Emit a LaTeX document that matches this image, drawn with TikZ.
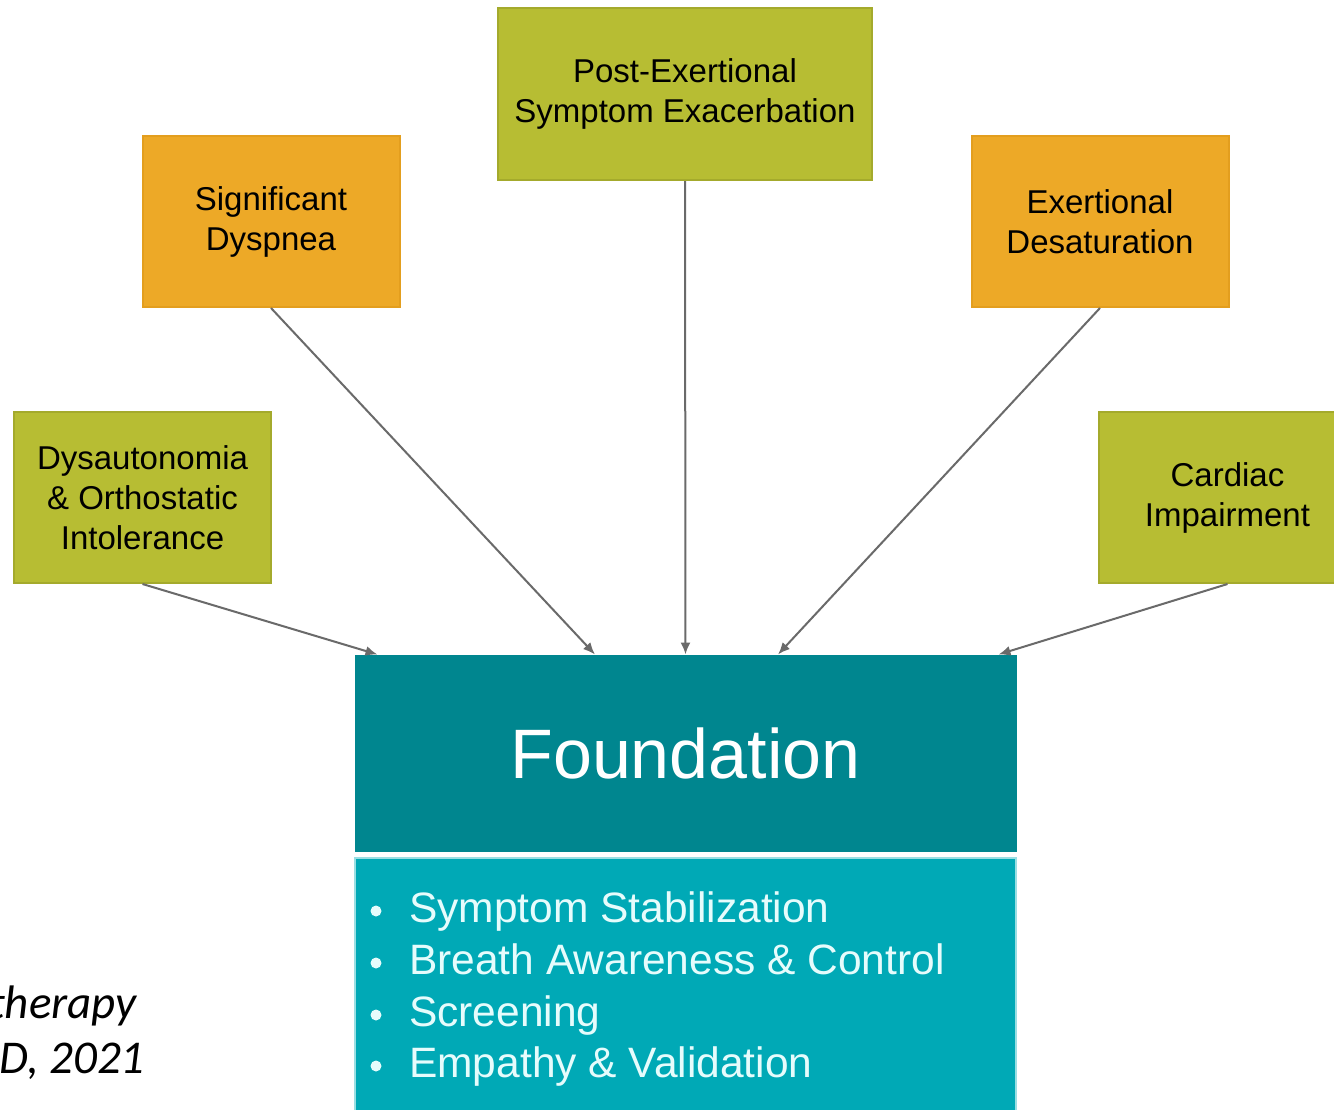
\documentclass[tikz,border=0pt]{standalone}
\usepackage{fontspec}
\setmainfont{Liberation Sans}
\newfontfamily\arialfont{Liberation Sans}
\newfontfamily\calib{Carlito}
\usetikzlibrary{arrows.meta}
\definecolor{boxgreen}{HTML}{B7BD33}
\definecolor{boxgreenedge}{HTML}{A4AA2C}
\definecolor{boxorange}{HTML}{EDA927}
\definecolor{boxorangeedge}{HTML}{E39E1E}
\definecolor{founddark}{HTML}{00868F}
\definecolor{foundlight}{HTML}{00A9B6}
\definecolor{foundedge}{HTML}{9ADFE3}
\definecolor{arrgray}{HTML}{6A6A6A}
\definecolor{bullettext}{HTML}{E6FCFC}
\tikzset{
  sbox/.style={draw, line width=2pt, minimum width=257, minimum height=171, inner sep=0,
    align=center, font=\arialfont\fontsize{33}{40}\selectfont},
  gbox/.style={sbox, fill=boxgreen, draw=boxgreenedge},
  obox/.style={sbox, fill=boxorange, draw=boxorangeedge},
  arr/.style={draw=arrgray, line width=2pt, -{Latex[length=12pt,width=10pt]}},
  bullettxt/.style={anchor=base west, inner sep=0, text=bullettext, font=\arialfont\fontsize{42.5}{48}\selectfont},
  cite/.style={anchor=base east, inner sep=0, font=\calib\itshape\fontsize{47}{55}\selectfont}
}
\begin{document}
\begin{tikzpicture}[x=1pt,y=-1pt]
\useasboundingbox (0,0) rectangle (1334,1109);
\clip (0,0) rectangle (1334,1109);
\fill[white] (0,0) rectangle (1334,1109);

\node[gbox] (dys) at (142.5,497.5) {Dysautonomia\\\& Orthostatic\\Intolerance};
\node[obox] (sig) at (271,221.5) {Significant\\Dyspnea};
\node[gbox, minimum width=374, minimum height=172] (pem) at (685,94) {Post-Exertional\\Symptom Exacerbation};
\node[obox] (exd) at (1100,221.5) {Exertional\\Desaturation};
\node[gbox] (car) at (1227.5,497.5) {Cardiac\\Impairment};

\node[fill=founddark, draw=founddark, line width=1pt, minimum width=661, minimum height=196, inner sep=0,
  text=white, font=\arialfont\fontsize{70}{80}\selectfont] (found) at (685.5,753) {Foundation};
\node[fill=foundlight, draw=foundedge, line width=2pt, minimum width=661, minimum height=280, inner sep=0,
  anchor=north] (list) at (685.5,857) {};

\foreach \t/\yy in {Symptom Stabilization/922, Breath Awareness \& Control/974, Screening/1026, Empathy \& Validation/1077}{
  \node[bullettxt] (b\yy) at (409,\yy) {\t};
  \fill[bullettext] (376,\yy-11) circle (5.5);
}

\node[cite] (cit1) at (137,1018) {therapy};
\node[cite] (cit2) at (145,1073) {D, 2021};

\draw[arr] (dys.south) -- ([xshift=23]found.north west);
\draw[arr] (sig.south) -- ([xshift=-90.5]found.north);
\draw[arr] (pem.south) -- (found.north);
\draw[arr] (exd.south) -- ([xshift=92.5]found.north);
\draw[arr] (car.south) -- ([xshift=-18]found.north east);
\end{tikzpicture}
\end{document}
